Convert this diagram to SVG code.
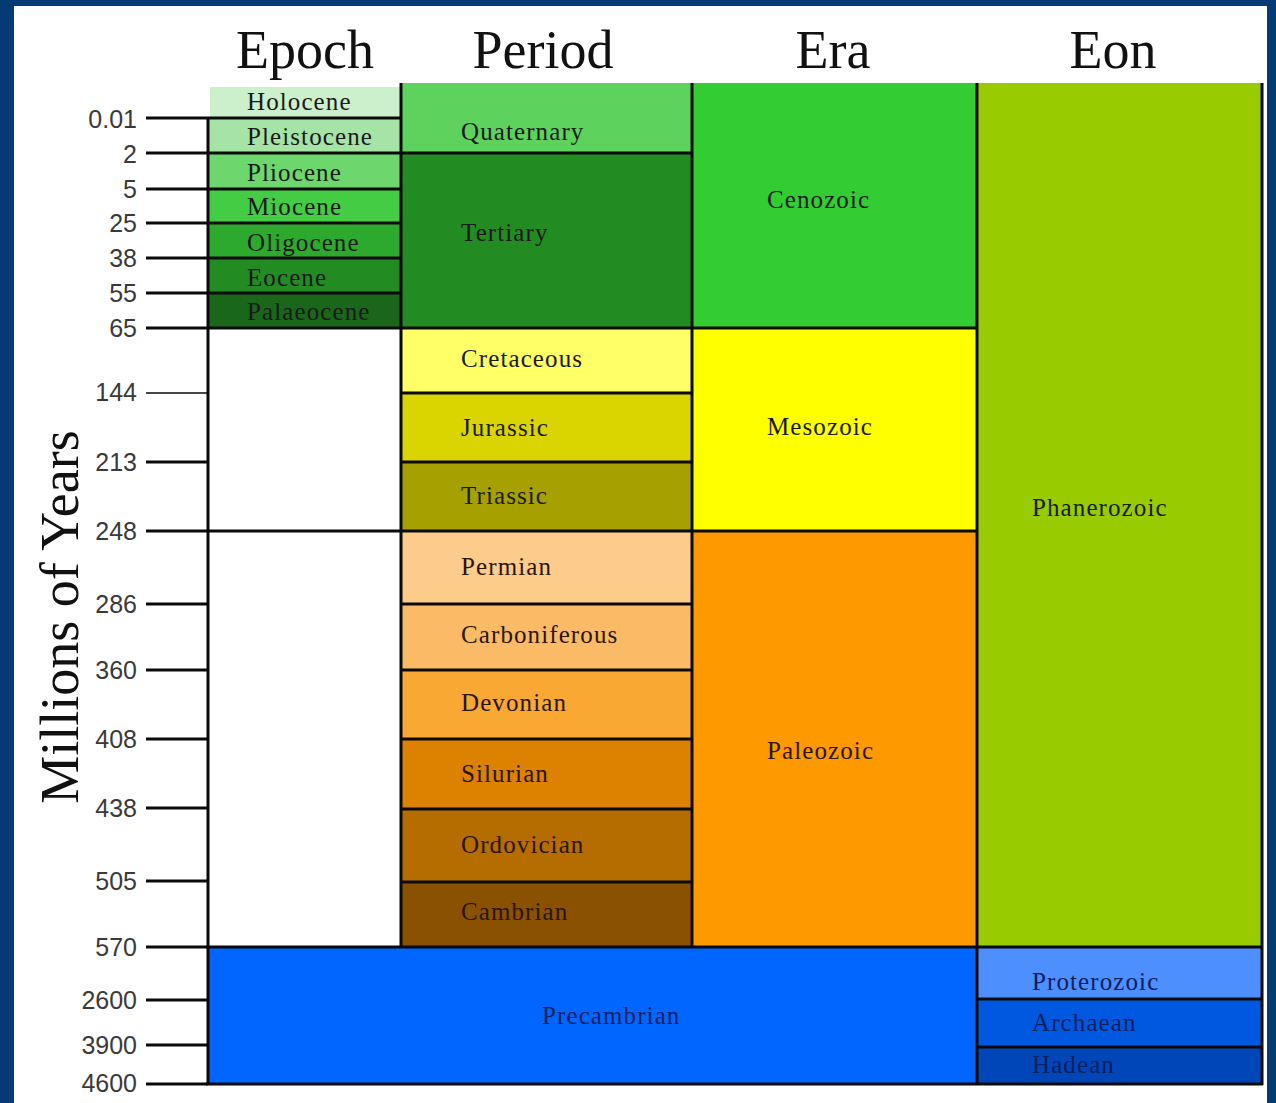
<svg xmlns="http://www.w3.org/2000/svg" width="1276" height="1103" viewBox="0 0 1276 1103">
<style>
.hdr{font-family:"Liberation Serif","Times New Roman",serif;font-size:54px;fill:#111;text-anchor:middle}
.num{font-family:"Liberation Sans",Arial,sans-serif;font-size:25px;fill:#3a3a3a;text-anchor:end}
.lbl{font-family:"Liberation Serif","Times New Roman",serif;font-size:25px;letter-spacing:1.1px;fill:#1a1a1a}
.brn{fill:#2b1500}
.blu{fill:#0c2060}
.ln{stroke:#0a0a0a;stroke-width:3;fill:none}
.tk{stroke:#0a0a0a;stroke-width:3}
</style>
<rect x="0" y="0" width="1276" height="1103" fill="#043a76"/>
<rect x="14" y="6" width="1253" height="1097" fill="#ffffff"/>

<g id="headers">
<text class="hdr" x="305" y="68">Epoch</text>
<text class="hdr" x="543" y="68">Period</text>
<text class="hdr" x="833" y="68">Era</text>
<text class="hdr" x="1113" y="68">Eon</text>
<text class="hdr" transform="translate(78,617) rotate(-90)" font-size="55">Millions of Years</text>
</g>

<g id="epochs">
<g id="holocene"><rect x="210" y="87" width="191" height="31" fill="#ccefcc"/><text class="lbl" x="247" y="110">Holocene</text></g>
<g id="pleistocene"><rect x="208" y="118" width="193" height="35" fill="#a6e3a6"/><text class="lbl" x="247" y="145">Pleistocene</text></g>
<g id="pliocene"><rect x="208" y="153" width="193" height="36" fill="#6dd66d"/><text class="lbl" x="247" y="181">Pliocene</text></g>
<g id="miocene"><rect x="208" y="189" width="193" height="34" fill="#44cc44"/><text class="lbl" x="247" y="215">Miocene</text></g>
<g id="oligocene"><rect x="208" y="223" width="193" height="35" fill="#2daa2d"/><text class="lbl" x="247" y="251">Oligocene</text></g>
<g id="eocene"><rect x="208" y="258" width="193" height="35" fill="#228b22"/><text class="lbl" x="247" y="286">Eocene</text></g>
<g id="palaeocene"><rect x="208" y="293" width="193" height="35" fill="#1a661a"/><text class="lbl" x="247" y="320">Palaeocene</text></g>
<g id="epoch-blank-1"><rect x="208" y="328" width="193" height="203" fill="#ffffff"/></g>
<g id="epoch-blank-2"><rect x="208" y="531" width="193" height="416" fill="#ffffff"/></g>
</g>

<g id="periods">
<g id="quaternary"><rect x="401" y="83" width="291" height="70" fill="#5dd35d"/><text class="lbl" x="461" y="140">Quaternary</text></g>
<g id="tertiary"><rect x="401" y="153" width="291" height="175" fill="#228b22"/><text class="lbl" x="461" y="241">Tertiary</text></g>
<g id="cretaceous"><rect x="401" y="328" width="291" height="65" fill="#ffff66"/><text class="lbl" x="461" y="367">Cretaceous</text></g>
<g id="jurassic"><rect x="401" y="393" width="291" height="69" fill="#dad400"/><text class="lbl" x="461" y="436">Jurassic</text></g>
<g id="triassic"><rect x="401" y="462" width="291" height="69" fill="#a6a000"/><text class="lbl" x="461" y="504">Triassic</text></g>
<g id="permian"><rect x="401" y="531" width="291" height="73" fill="#fdcc8a"/><text class="lbl brn" x="461" y="575">Permian</text></g>
<g id="carboniferous"><rect x="401" y="604" width="291" height="66" fill="#fbbb66"/><text class="lbl brn" x="461" y="643">Carboniferous</text></g>
<g id="devonian"><rect x="401" y="670" width="291" height="69" fill="#f9a833"/><text class="lbl brn" x="461" y="711">Devonian</text></g>
<g id="silurian"><rect x="401" y="739" width="291" height="70" fill="#dc8100"/><text class="lbl brn" x="461" y="782">Silurian</text></g>
<g id="ordovician"><rect x="401" y="809" width="291" height="73" fill="#b56d00"/><text class="lbl brn" x="461" y="853">Ordovician</text></g>
<g id="cambrian"><rect x="401" y="882" width="291" height="65" fill="#8a5100"/><text class="lbl brn" x="461" y="920">Cambrian</text></g>
</g>

<g id="eras">
<g id="cenozoic"><rect x="692" y="83" width="285" height="245" fill="#33cc33"/><text class="lbl" x="767" y="208">Cenozoic</text></g>
<g id="mesozoic"><rect x="692" y="328" width="285" height="203" fill="#ffff00"/><text class="lbl" x="767" y="435">Mesozoic</text></g>
<g id="paleozoic"><rect x="692" y="531" width="285" height="416" fill="#ff9900"/><text class="lbl brn" x="767" y="759">Paleozoic</text></g>
</g>

<g id="eons">
<g id="phanerozoic"><rect x="977" y="83" width="285" height="864" fill="#99cc00"/><text class="lbl" x="1032" y="516">Phanerozoic</text></g>
<g id="proterozoic"><rect x="977" y="947" width="285" height="52" fill="#4d8fff"/><text class="lbl blu" x="1032" y="990">Proterozoic</text></g>
<g id="archaean"><rect x="977" y="999" width="285" height="48" fill="#0058e0"/><text class="lbl blu" x="1032" y="1031">Archaean</text></g>
<g id="hadean"><rect x="977" y="1047" width="285" height="37" fill="#0046b8"/><text class="lbl blu" x="1032" y="1073">Hadean</text></g>
</g>

<g id="precambrian"><rect x="208" y="947" width="769" height="137" fill="#0066ff"/><text class="lbl blu" x="542" y="1024">Precambrian</text></g>

<g id="grid">
<path class="ln" d="M208 118V1085M401 83V947M692 83V947M977 83V1085M1262 83V1085"/>
<path class="ln" d="M208 118H401M208 153H692M208 189H401M208 223H401M208 258H401M208 293H401M208 328H977M401 393H692M401 462H692M208 531H977M401 604H692M401 670H692M401 739H692M401 809H692M401 882H692M206 947H1263M977 999H1262M977 1047H1262M206 1084H1263"/>
</g>

<g id="axis">
<g id="ticks">
<path class="tk" d="M146 118H208M146 153H208M146 189H208M146 223H208M146 258H208M146 293H208M146 328H208M146 462H208M146 531H208M146 604H208M146 670H208M146 739H208M146 808H208M146 881H208M146 947H208M146 1000H208M146 1045H208M146 1084H208"/>
<path d="M146 393H208" stroke="#0a0a0a" stroke-width="1.6"/>
</g>
<g id="tick-labels">
<text class="num" x="137" y="128">0.01</text>
<text class="num" x="137" y="163">2</text>
<text class="num" x="137" y="198">5</text>
<text class="num" x="137" y="232">25</text>
<text class="num" x="137" y="267">38</text>
<text class="num" x="137" y="302">55</text>
<text class="num" x="137" y="337">65</text>
<text class="num" x="137" y="401">144</text>
<text class="num" x="137" y="471">213</text>
<text class="num" x="137" y="540">248</text>
<text class="num" x="137" y="613">286</text>
<text class="num" x="137" y="679">360</text>
<text class="num" x="137" y="748">408</text>
<text class="num" x="137" y="817">438</text>
<text class="num" x="137" y="890">505</text>
<text class="num" x="137" y="956">570</text>
<text class="num" x="137" y="1009">2600</text>
<text class="num" x="137" y="1054">3900</text>
<text class="num" x="137" y="1092">4600</text>
</g>
</g>
</svg>
